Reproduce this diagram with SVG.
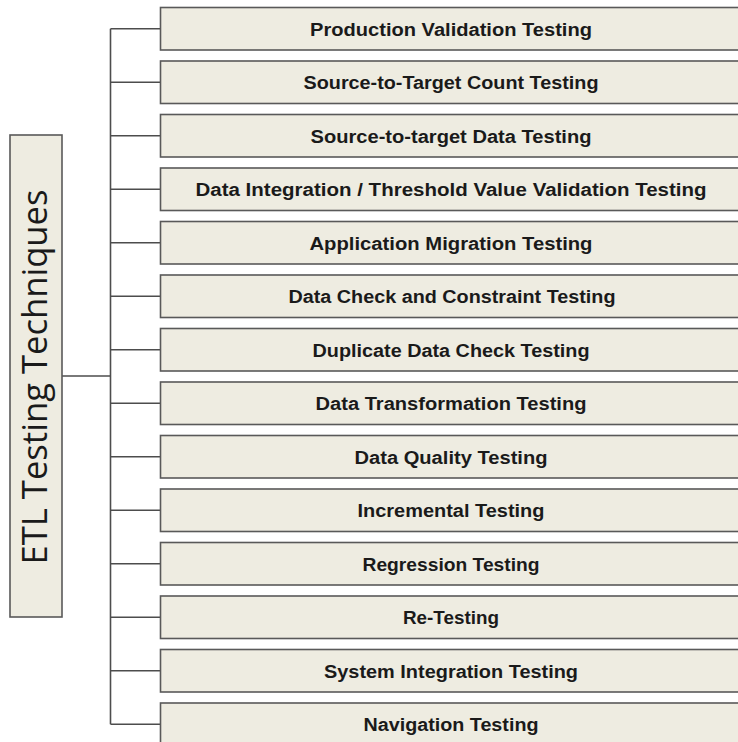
<svg xmlns="http://www.w3.org/2000/svg" width="738" height="742" viewBox="0 0 738 742">
<style>
.box{fill:#EEECE1;stroke:#595959;stroke-width:1.6}
.lbl{font-family:"Liberation Sans",Arial,sans-serif;font-weight:bold;font-size:18px;fill:#1a1a1a;text-anchor:middle}
.title{font-family:"Open Sans","Liberation Sans",sans-serif;font-size:34px;fill:#1a1a1a;text-anchor:middle}
.conn{stroke:#4d4d4d;stroke-width:1.6;fill:none}
</style>
<rect width="738" height="742" fill="#ffffff"/>
<g id="connectors">
<path class="conn" d="M62,376H110.5M110.5,28.75V724.25"/>
<path class="conn" d="M110.5,28.75H160.5M110.5,82.25H160.5M110.5,135.75H160.5M110.5,189.25H160.5M110.5,242.75H160.5M110.5,296.25H160.5M110.5,349.75H160.5M110.5,403.25H160.5M110.5,456.75H160.5M110.5,510.25H160.5M110.5,563.75H160.5M110.5,617.25H160.5M110.5,670.75H160.5M110.5,724.25H160.5"/>
</g>
<g id="root">
<rect class="box" x="10" y="135" width="52" height="482"/>
<text class="title" transform="translate(46.5,377) rotate(-90)" x="0" y="0" textLength="375" lengthAdjust="spacingAndGlyphs">ETL Testing Techniques</text>
</g>
<g id="n1"><rect class="box" x="160.5" y="7.5" width="590" height="42.5"/><text class="lbl" x="451" y="35.5" textLength="282" lengthAdjust="spacingAndGlyphs">Production Validation Testing</text></g>
<g id="n2"><rect class="box" x="160.5" y="61" width="590" height="42.5"/><text class="lbl" x="451" y="89" textLength="295" lengthAdjust="spacingAndGlyphs">Source-to-Target Count Testing</text></g>
<g id="n3"><rect class="box" x="160.5" y="114.5" width="590" height="42.5"/><text class="lbl" x="451" y="142.5" textLength="281" lengthAdjust="spacingAndGlyphs">Source-to-target Data Testing</text></g>
<g id="n4"><rect class="box" x="160.5" y="168" width="590" height="42.5"/><text class="lbl" x="451" y="196" textLength="511" lengthAdjust="spacingAndGlyphs">Data Integration / Threshold Value Validation Testing</text></g>
<g id="n5"><rect class="box" x="160.5" y="221.5" width="590" height="42.5"/><text class="lbl" x="451" y="249.5" textLength="283" lengthAdjust="spacingAndGlyphs">Application Migration Testing</text></g>
<g id="n6"><rect class="box" x="160.5" y="275" width="590" height="42.5"/><text class="lbl" x="452" y="303" textLength="327" lengthAdjust="spacingAndGlyphs">Data Check and Constraint Testing</text></g>
<g id="n7"><rect class="box" x="160.5" y="328.5" width="590" height="42.5"/><text class="lbl" x="451" y="356.5" textLength="277" lengthAdjust="spacingAndGlyphs">Duplicate Data Check Testing</text></g>
<g id="n8"><rect class="box" x="160.5" y="382" width="590" height="42.5"/><text class="lbl" x="451" y="410" textLength="271" lengthAdjust="spacingAndGlyphs">Data Transformation Testing</text></g>
<g id="n9"><rect class="box" x="160.5" y="435.5" width="590" height="42.5"/><text class="lbl" x="451" y="463.5" textLength="193" lengthAdjust="spacingAndGlyphs">Data Quality Testing</text></g>
<g id="n10"><rect class="box" x="160.5" y="489" width="590" height="42.5"/><text class="lbl" x="451" y="517" textLength="187" lengthAdjust="spacingAndGlyphs">Incremental Testing</text></g>
<g id="n11"><rect class="box" x="160.5" y="542.5" width="590" height="42.5"/><text class="lbl" x="451" y="570.5" textLength="177" lengthAdjust="spacingAndGlyphs">Regression Testing</text></g>
<g id="n12"><rect class="box" x="160.5" y="596" width="590" height="42.5"/><text class="lbl" x="451" y="624" textLength="96" lengthAdjust="spacingAndGlyphs">Re-Testing</text></g>
<g id="n13"><rect class="box" x="160.5" y="649.5" width="590" height="42.5"/><text class="lbl" x="451" y="677.5" textLength="254" lengthAdjust="spacingAndGlyphs">System Integration Testing</text></g>
<g id="n14"><rect class="box" x="160.5" y="703" width="590" height="42.5"/><text class="lbl" x="451" y="731" textLength="175" lengthAdjust="spacingAndGlyphs">Navigation Testing</text></g>
</svg>
